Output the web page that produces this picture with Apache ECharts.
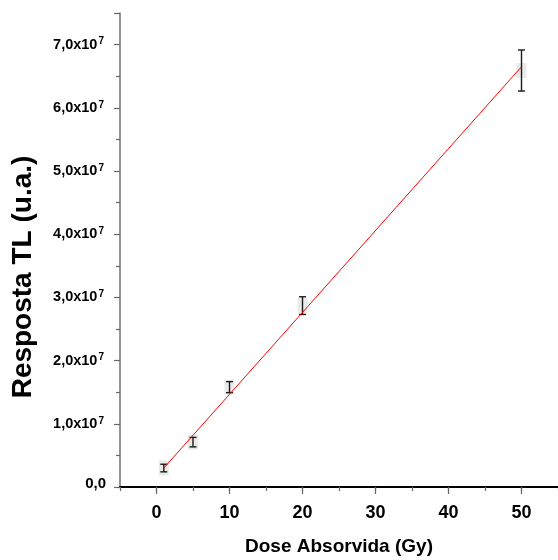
<!DOCTYPE html>
<html>
<head>
<meta charset="utf-8">
<script src="https://cdn.jsdelivr.net/npm/echarts@6/dist/echarts.min.js"></script>
<style>
  html, body { margin: 0; padding: 0; background: #ffffff; }
  #chart { width: 558px; height: 560px; }
</style>
</head>
<body>
<div id="chart"></div>
<script>
// Measured TL response versus absorbed dose, with standard deviations
const doseGy = [1, 5, 10, 20, 50];
const tlResponse = [0.30e7, 0.71e7, 1.58e7, 2.87e7, 6.59e7];
const tlError = [0.06e7, 0.075e7, 0.087e7, 0.14e7, 0.325e7];

// Linear fit, drawn between its end points
const fitDose = [1, 50];
const fitResponse = [0.30e7, 6.65e7];

// Axis ticks and titles
const xLabelValues = [0, 10, 20, 30, 40, 50];
const xTitle = 'Dose Absorvida (Gy)';
const yTitle = 'Resposta TL (u.a.)';

const narrow = "'Liberation Sans Narrow', 'Arial Narrow', 'Liberation Sans', Arial, sans-serif";
const wide = "'Liberation Sans', Arial, sans-serif";

const points = doseGy.map((d, i) => [d, tlResponse[i], tlError[i]]);
const fitLine = fitDose.map((d, i) => [d, fitResponse[i]]);

const chart = echarts.init(document.getElementById('chart'), null, { renderer: 'canvas' });

chart.setOption({
  animation: false,
  backgroundColor: '#ffffff',
  grid: { left: 120, right: 0, top: 13, bottom: 73, containLabel: false, outerBoundsMode: 'none' },
  xAxis: [
    {
      type: 'value', position: 'bottom', min: -5, max: 55, interval: 5,
      axisLine: { show: true, onZero: false, lineStyle: { color: '#000000', width: 2 } },
      axisTick: { show: true, inside: false, length: 4, lineStyle: { color: '#666666', width: 1.2 } },
      axisLabel: { show: false },
      splitLine: { show: false }
    },
    {
      type: 'value', position: 'bottom', min: -5, max: 55,
      axisLine: { show: false, onZero: false },
      axisTick: { show: true, inside: false, length: 7, customValues: xLabelValues,
                  lineStyle: { color: '#666666', width: 1.2 } },
      axisLabel: {
        show: true, customValues: xLabelValues, margin: 17,
        fontFamily: narrow, fontWeight: 'bold', fontSize: 18, color: '#000000'
      },
      splitLine: { show: false },
      name: xTitle, nameLocation: 'middle', nameGap: 50,
      nameTextStyle: { fontFamily: narrow, fontWeight: 'bold', fontSize: 19, color: '#000000' }
    }
  ],
  yAxis: {
    type: 'value', min: 0, max: 7.5e7, interval: 1e7,
    axisLine: { show: true, onZero: false, lineStyle: { color: '#707070', width: 1.5 } },
    axisTick: { show: true, inside: false, length: 6, lineStyle: { color: '#666666', width: 1.2 } },
    minorTick: { show: true, splitNumber: 2, length: 4, lineStyle: { color: '#666666', width: 1.2 } },
    splitLine: { show: false },
    minorSplitLine: { show: false },
    axisLabel: {
      showMaxLabel: false, margin: 14,
      formatter: function (v) {
        if (v === 0) return '{z|0,0}';
        const m = (v / 1e7).toFixed(1).replace('.', ',');
        return '{m|' + m + 'x10}{s|7}';
      },
      rich: {
        z: { fontFamily: narrow, fontWeight: 'bold', fontSize: 15, color: '#000000', padding: [0, 0, 6, 0] },
        m: { fontFamily: narrow, fontWeight: 'bold', fontSize: 14.5, lineHeight: 16, color: '#000000', verticalAlign: 'middle' },
        s: { fontFamily: narrow, fontWeight: 'bold', fontSize: 10, lineHeight: 10, color: '#000000',
             verticalAlign: 'top', padding: [0, 2, 22, 1] }
      }
    }
  },
  graphic: [
    {
      type: 'text', x: 23, y: 277, rotation: Math.PI / 2,
      style: {
        text: yTitle, fill: '#000000', font: 'bold 28px ' + wide,
        align: 'center', verticalAlign: 'middle'
      }
    }
  ],
  series: [
    {
      type: 'custom', xAxisIndex: 0, yAxisIndex: 0, z: 2,
      data: points,
      renderItem: function (params, api) {
        const x = api.value(0), y = api.value(1), e = api.value(2);
        const c = api.coord([x, y]);
        const hi = api.coord([x, y + e]);
        const lo = api.coord([x, y - e]);
        const cap = 3.5;
        const bar = { stroke: '#1a1a1a', lineWidth: 1.4 };
        return {
          type: 'group',
          children: [
            { type: 'rect', shape: { x: c[0] - 5, y: c[1] - 7.5, width: 10, height: 15 }, style: { fill: '#e8ebe8' } },
            { type: 'line', shape: { x1: c[0], y1: hi[1], x2: c[0], y2: lo[1] }, style: bar },
            { type: 'line', shape: { x1: c[0] - cap, y1: hi[1], x2: c[0] + cap, y2: hi[1] }, style: bar },
            { type: 'line', shape: { x1: c[0] - cap, y1: lo[1], x2: c[0] + cap, y2: lo[1] }, style: bar }
          ]
        };
      }
    },
    {
      type: 'line', xAxisIndex: 0, yAxisIndex: 0, z: 3,
      data: fitLine, showSymbol: false, symbol: 'none',
      lineStyle: { color: '#ff0000', width: 1 }
    }
  ]
});
</script>
</body>
</html>
